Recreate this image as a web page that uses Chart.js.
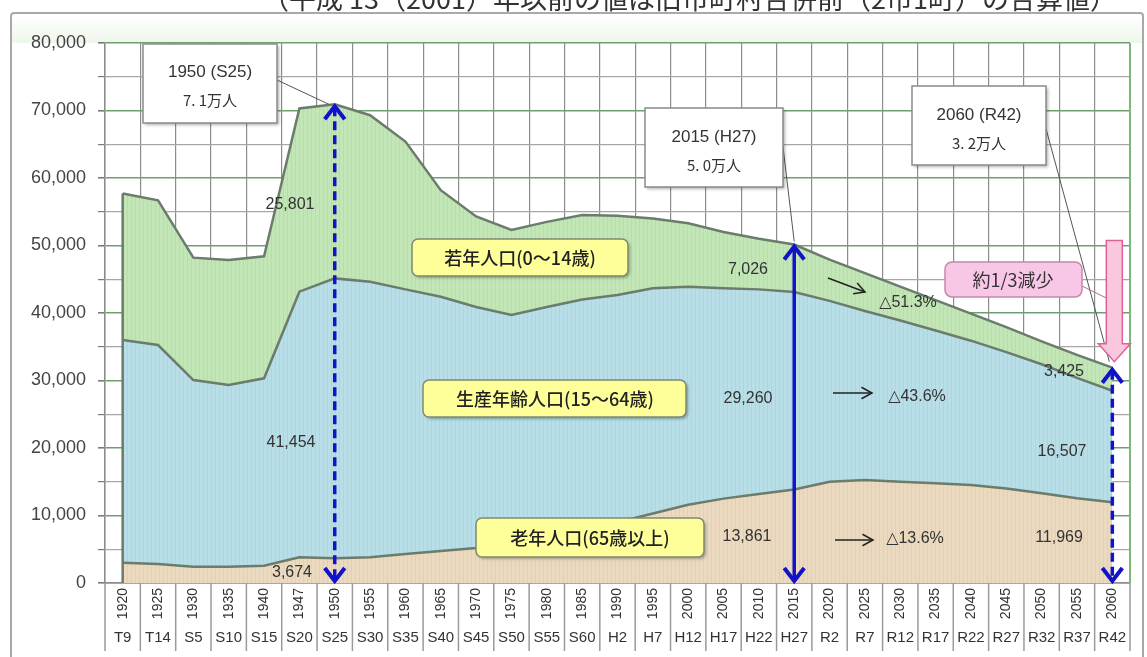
<!DOCTYPE html>
<html>
<head>
<meta charset="utf-8">
<script src="https://cdn.jsdelivr.net/npm/chart.js@4.4.1/dist/chart.umd.min.js"></script>
<style>
  html, body { margin: 0; padding: 0; background: #fff; }
  #PopChart { display: block; }
</style>
</head>
<body>
<canvas id="PopChart" width="1147" height="657"></canvas>
<script>
var years = ['1920', '1925', '1930', '1935', '1940', '1947', '1950', '1955', '1960', '1965',
    '1970', '1975', '1980', '1985', '1990', '1995', '2000', '2005', '2010', '2015',
    '2020', '2025', '2030', '2035', '2040', '2045', '2050', '2055', '2060'];
var eras = ['T9', 'T14', 'S5', 'S10', 'S15', 'S20', 'S25', 'S30', 'S35', 'S40',
    'S45', 'S50', 'S55', 'S60', 'H2', 'H7', 'H12', 'H17', 'H22', 'H27',
    'R2', 'R7', 'R12', 'R17', 'R22', 'R27', 'R32', 'R37', 'R42'];

// persons (labelled years are exact)
var elderly = [3010, 2810, 2420, 2420, 2570, 3800, 3674, 3800, 4300, 4740,
    5200, 6000, 7000, 8000, 9000, 10300, 11600, 12500, 13200, 13861,
    15000, 15260, 15000, 14770, 14520, 14000, 13280, 12540, 11969];
var working = [32990, 32450, 27650, 26910, 27750, 39360, 41454, 40840, 39200, 37660,
    35700, 33700, 33900, 34000, 33670, 33350, 32300, 31150, 30300, 29260,
    26800, 25040, 23900, 22630, 21380, 20200, 19120, 17860, 16507];
var young = [21700, 21440, 18130, 18520, 18080, 27140, 25801, 24660, 21900, 15800,
    13400, 12600, 12600, 12500, 11730, 10350, 9400, 8350, 7500, 7026,
    6100, 5600, 5000, 4500, 4000, 3700, 3400, 3400, 3425];

var yMax = 80000, yStep = 5000, yLabelStep = 10000;

var note = '（平成 13（2001）年以前の値は旧市町村合併前（2市1町）の合算値）';
var seriesNames = ['老年人口(65歳以上)', '生産年齢人口(15～64歳)', '若年人口(0～14歳)'];

var totals = years.map(function (_, i) { return elderly[i] + working[i] + young[i]; });
var lineColor = '#6b7b6c';
var blue = '#1212c8';

function fmt(v) { return v.toLocaleString('en-US'); }

// faint vertical stripes like the scanned original
function striped(base, dark) {
    var c = document.createElement('canvas');
    c.width = 4; c.height = 1;
    var g = c.getContext('2d');
    g.fillStyle = base; g.fillRect(0, 0, 4, 1);
    g.fillStyle = dark; g.fillRect(3, 0, 1, 1);
    return g.createPattern(c, 'repeat');
}

function label(ctx, s, x, y, font, color, align) {
    ctx.font = font;
    ctx.fillStyle = color || '#333';
    ctx.textAlign = align || 'center';
    ctx.textBaseline = 'middle';
    ctx.fillText(s, x, y);
}

function line(ctx, x1, y1, x2, y2, color, width, dash) {
    ctx.beginPath();
    ctx.setLineDash(dash || []);
    ctx.moveTo(x1, y1);
    ctx.lineTo(x2, y2);
    ctx.strokeStyle = color;
    ctx.lineWidth = width;
    ctx.stroke();
    ctx.setLineDash([]);
}

function box(ctx, x, y, w, h, r, fill, stroke, shadow) {
    ctx.save();
    if (shadow) {
        ctx.shadowColor = 'rgba(0,0,0,0.3)';
        ctx.shadowOffsetX = 2;
        ctx.shadowOffsetY = 2;
        ctx.shadowBlur = 3;
    }
    ctx.beginPath();
    ctx.roundRect(x, y, w, h, r);
    ctx.fillStyle = fill;
    ctx.fill();
    ctx.restore();
    ctx.beginPath();
    ctx.roundRect(x, y, w, h, r);
    ctx.strokeStyle = stroke;
    ctx.lineWidth = 1.5;
    ctx.stroke();
}

// open arrow like "-->"
function thinArrow(ctx, x1, y1, x2, y2) {
    var a = Math.atan2(y2 - y1, x2 - x1), l = 12;
    line(ctx, x1, y1, x2, y2, '#222', 1.5);
    ctx.beginPath();
    ctx.moveTo(x2 - l * Math.cos(a - 0.5), y2 - l * Math.sin(a - 0.5));
    ctx.lineTo(x2, y2);
    ctx.lineTo(x2 - l * Math.cos(a + 0.5), y2 - l * Math.sin(a + 0.5));
    ctx.stroke();
}

// blue double headed arrow, chevron heads
function blueArrow(ctx, x, yTop, yBottom, dashed) {
    line(ctx, x, yTop + 3, x, yBottom - 3, blue, 3.5, dashed ? [9, 5] : null);
    ctx.beginPath();
    ctx.moveTo(x - 10, yTop + 15); ctx.lineTo(x, yTop + 2); ctx.lineTo(x + 10, yTop + 15);
    ctx.moveTo(x - 10, yBottom - 15); ctx.lineTo(x, yBottom - 2); ctx.lineTo(x + 10, yBottom - 15);
    ctx.strokeStyle = blue;
    ctx.lineWidth = 4;
    ctx.lineJoin = 'miter';
    ctx.stroke();
}

var decorations = {
    id: 'decorations',
    beforeDraw: function (chart) {
        var ctx = chart.ctx, a = chart.chartArea;
        ctx.save();
        ctx.fillStyle = '#fff';
        ctx.fillRect(0, 0, chart.width, chart.height);
        // note above the frame, cut by the top edge of the picture
        ctx.font = '27px "Noto Sans CJK JP"';
        ctx.fillStyle = '#333';
        ctx.textAlign = 'left';
        ctx.textBaseline = 'alphabetic';
        ctx.fillText(note, 262, 9);
        var g = ctx.createLinearGradient(0, 14, 0, a.top);
        g.addColorStop(0, '#ffffff');
        g.addColorStop(1, '#eef7eb');
        ctx.fillStyle = g;
        ctx.fillRect(12, 14, 1130, a.top - 14);
        ctx.strokeStyle = '#a9a9a9';
        ctx.lineWidth = 2;
        ctx.beginPath();
        ctx.roundRect(11, 13, 1132, 700, 3);
        ctx.stroke();
        ctx.restore();
    },
    afterDatasetsDraw: function (chart) {
        var ctx = chart.ctx, a = chart.chartArea;
        var xs = chart.scales.x, ys = chart.scales.y;
        var half = (xs.getPixelForValue(1) - xs.getPixelForValue(0)) / 2;
        function X(i) { return xs.getPixelForValue(i); }
        function Y(v) { return ys.getPixelForValue(v); }
        ctx.save();

        // table lines under the plot
        for (var i = 0; i <= years.length; i++) {
            var bx = X(i) - half;
            line(ctx, bx, a.bottom, bx, a.bottom + 68, '#9a9a9a', 1.5);
        }
        line(ctx, a.right, a.top, a.right, a.bottom, '#7cb87c', 2);
        line(ctx, X(0), Y(0), X(0), Y(totals[0]), lineColor, 2.5);

        // value labels
        var vf = '16px "Liberation Sans"';
        label(ctx, fmt(young[6]), 290, 205, vf);
        label(ctx, fmt(working[6]), 291, 443, vf);
        label(ctx, fmt(elderly[6]), 292, 573, vf);
        label(ctx, fmt(young[19]), 748, 270, vf);
        label(ctx, fmt(working[19]), 748, 399, vf);
        label(ctx, fmt(elderly[19]), 747, 537, vf);
        label(ctx, fmt(young[28]), 1064, 372, vf);
        label(ctx, fmt(working[28]), 1062, 452, vf);
        label(ctx, fmt(elderly[28]), 1059, 538, vf);

        // change 2015 -> 2060
        var df = '16px "Liberation Sans", "DejaVu Sans"';
        thinArrow(ctx, 828, 278, 865, 292);
        label(ctx, '△51.3%', 908, 303, df);
        thinArrow(ctx, 833, 393, 872, 393);
        label(ctx, '△43.6%', 917, 397, df);
        thinArrow(ctx, 835, 540, 873, 540);
        label(ctx, '△13.6%', 915, 539, df);

        // series name boxes
        var nf = '500 18px "Noto Sans CJK JP"';
        box(ctx, 412, 239, 216, 37, 6, '#ffff99', '#7d8c70', true);
        label(ctx, seriesNames[2], 520, 258, nf, '#222');
        box(ctx, 423, 380, 263, 37, 6, '#ffff99', '#7d8c70', true);
        label(ctx, seriesNames[1], 555, 399, nf, '#222');
        box(ctx, 476, 518, 228, 39, 6, '#ffff99', '#7d8c70', true);
        label(ctx, seriesNames[0], 590, 538, nf, '#222');

        // blue arrows: total at 1950, 2015, 2060
        blueArrow(ctx, X(6), Y(totals[6]), Y(0), true);
        blueArrow(ctx, X(19), Y(totals[19]), Y(0), false);
        blueArrow(ctx, X(28), Y(totals[28]), Y(0), true);

        // callouts with totals
        var tf = '17px "Liberation Sans"', mf = '15px "Noto Sans CJK JP"';
        line(ctx, 277, 80, X(6) - 6, Y(totals[6]), '#555', 1);
        box(ctx, 143, 44, 134, 79, 0, '#fff', '#8a8a8a', true);
        label(ctx, '1950 (S25)', 210, 72, tf, '#333');
        label(ctx, '7. 1万人', 210, 100, mf, '#333');

        line(ctx, 783, 147, X(19), Y(totals[19]) - 3, '#555', 1);
        box(ctx, 645, 108, 138, 79, 0, '#fff', '#8a8a8a', true);
        label(ctx, '2015 (H27)', 714, 137, tf, '#333');
        label(ctx, '5. 0万人', 714, 165, mf, '#333');

        line(ctx, 1045, 125, X(28) - 3, Y(totals[28]) - 6, '#555', 1);
        box(ctx, 912, 86, 134, 79, 0, '#fff', '#8a8a8a', true);
        label(ctx, '2060 (R42)', 979, 115, tf, '#333');
        label(ctx, '3. 2万人', 979, 143, mf, '#333');

        // pink arrow: 2015 level down to 2060 level
        var px = X(28) + 2, top = Y(totals[19]) - 4, tip = Y(totals[28]) - 6;
        ctx.beginPath();
        ctx.moveTo(px - 8, top); ctx.lineTo(px + 8, top); ctx.lineTo(px + 8, tip - 18);
        ctx.lineTo(px + 16, tip - 18); ctx.lineTo(px, tip); ctx.lineTo(px - 16, tip - 18);
        ctx.lineTo(px - 8, tip - 18); ctx.closePath();
        ctx.fillStyle = '#f9c8dd';
        ctx.fill();
        ctx.strokeStyle = '#e0609a';
        ctx.lineWidth = 1.5;
        ctx.stroke();
        line(ctx, 1082, 286, px - 8, 298, '#b07090', 1);
        box(ctx, 945, 262, 137, 35, 7, '#f8c6e6', '#c28aa8', false);
        label(ctx, '約1/3減少', 1013, 280, '18px "Noto Sans CJK JP"', '#333');

        ctx.restore();
    }
};

new Chart(document.getElementById('PopChart'), {
    type: 'line',
    data: {
        labels: years,
        datasets: [
            { label: seriesNames[0], data: elderly, fill: 'origin', backgroundColor: striped('#ebdac0', '#e2d0b6') },
            { label: seriesNames[1], data: working, fill: '-1', backgroundColor: striped('#b8dfe7', '#aed5de') },
            { label: seriesNames[2], data: young, fill: '-1', backgroundColor: striped('#c3e6b6', '#b8dcab') }
        ]
    },
    options: {
        responsive: false,
        animation: false,
        layout: { padding: { left: 0, right: 17, top: 43, bottom: 6 } },
        elements: {
            line: { borderColor: lineColor, borderWidth: 2.5, tension: 0 },
            point: { radius: 0, hoverRadius: 0 }
        },
        plugins: {
            legend: { display: false },
            tooltip: { enabled: false },
            filler: { drawTime: 'beforeDatasetsDraw' }
        },
        scales: {
            x: {
                offset: true,
                weight: 0,
                grid: { offset: true, color: '#8c8c8c', lineWidth: 1.2, drawTicks: false },
                border: { color: '#8c8c8c', width: 1.5 },
                ticks: {
                    autoSkip: false, minRotation: 90, maxRotation: 90, padding: 5,
                    color: '#333', font: { family: '"Liberation Sans"', size: 14 }
                },
                afterFit: function (s) { s.height = 42; }
            },
            x2: {
                type: 'category',
                labels: eras,
                position: 'bottom',
                offset: true,
                weight: 1,
                grid: { display: false },
                border: { display: false },
                ticks: {
                    autoSkip: false, maxRotation: 0, padding: -4,
                    color: '#333', font: { family: '"Liberation Sans"', size: 15 }
                },
                afterFit: function (s) { s.height = 26; }
            },
            y: {
                stacked: true,
                min: 0,
                max: yMax,
                grid: {
                    color: function (c) { return c.tick && c.tick.value % yLabelStep === 0 ? '#6f9f6f' : '#a6a6a6'; },
                    lineWidth: function (c) { return c.tick && c.tick.value % yLabelStep === 0 ? 1.6 : 1.2; },
                    tickColor: '#7a7a7a',
                    tickLength: 7
                },
                border: { color: '#8c8c8c', width: 1.5 },
                ticks: {
                    stepSize: yStep,
                    autoSkip: false,
                    padding: 12,
                    color: '#444',
                    font: { family: '"Liberation Sans"', size: 18 },
                    callback: function (v) { return v % yLabelStep === 0 ? fmt(v) : ''; }
                },
                afterFit: function (s) { s.width = 105; }
            }
        }
    },
    plugins: [decorations]
});
</script>
</body>
</html>
